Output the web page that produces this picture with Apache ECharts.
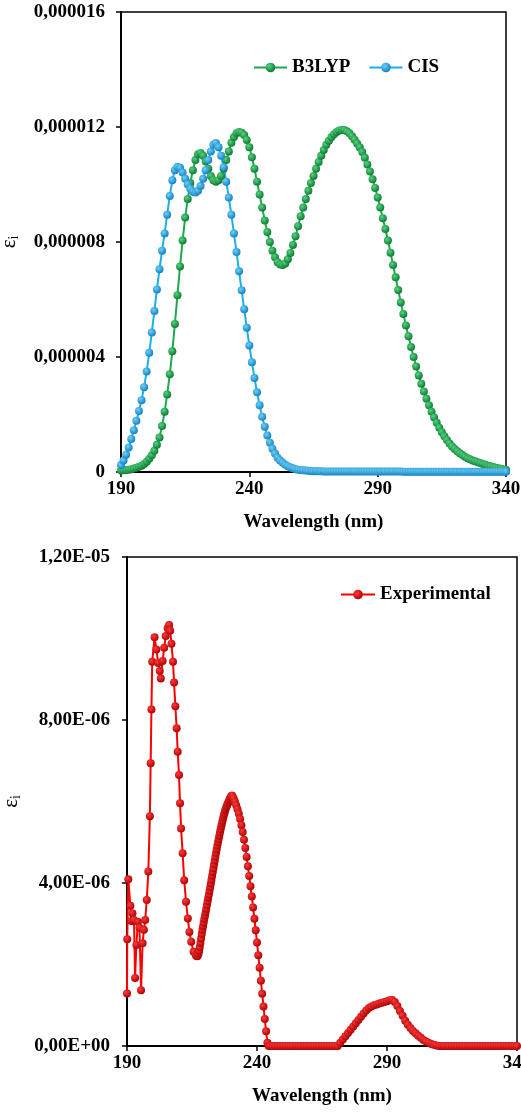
<!DOCTYPE html>
<html><head><meta charset="utf-8">
<script src="https://cdn.jsdelivr.net/npm/echarts@6/dist/echarts.min.js"></script>
<style>html,body{margin:0;padding:0;background:#fff}#c{width:521px;height:1114px}</style>
</head><body><div id="c"></div>
<script>
// Wavelengths (nm) for the computed spectra (top chart)
const topWavelengths = [190,191,192,193,194,195,196,197,198,199,200,201,202,203,204,205,206,207,208,209,210,211,212,213,214,215,216,217,218,219,220,221,222,223,224,225,226,227,228,229,230,231,232,233,234,235,236,237,238,239,240,241,242,243,244,245,246,247,248,249,250,251,252,253,254,255,256,257,258,259,260,261,262,263,264,265,266,267,268,269,270,271,272,273,274,275,276,277,278,279,280,281,282,283,284,285,286,287,288,289,290,291,292,293,294,295,296,297,298,299,300,301,302,303,304,305,306,307,308,309,310,311,312,313,314,315,316,317,318,319,320,321,322,323,324,325,326,327,328,329,330,331,332,333,334,335,336,337,338,339,340];
// epsilon values in units of 1e-6
const b3lyp = [0.05,0.06,0.07,0.08,0.10,0.12,0.15,0.18,0.22,0.28,
0.36,0.46,0.58,0.74,0.95,1.20,1.60,2.10,2.70,3.40,
4.20,5.15,6.15,7.15,8.05,8.85,9.50,10.05,10.50,10.85,
11.05,11.10,11.00,10.80,10.55,10.30,10.15,10.10,10.15,10.30,
10.55,10.85,11.15,11.45,11.65,11.78,11.83,11.80,11.72,11.55,
11.30,10.95,10.55,10.10,9.65,9.20,8.75,8.35,8.00,7.70,
7.47,7.30,7.22,7.20,7.25,7.40,7.62,7.90,8.20,8.55,
8.90,9.20,9.50,9.78,10.05,10.30,10.55,10.78,11.00,11.20,
11.38,11.52,11.65,11.75,11.83,11.88,11.90,11.90,11.85,11.78,
11.68,11.56,11.43,11.30,11.13,10.93,10.70,10.45,10.18,9.88,
9.55,9.20,8.83,8.45,8.05,7.63,7.20,6.77,6.33,5.90,
5.50,5.10,4.72,4.35,4.00,3.67,3.36,3.07,2.80,2.55,
2.32,2.10,1.90,1.71,1.54,1.38,1.24,1.11,0.99,0.89,
0.80,0.72,0.65,0.59,0.53,0.48,0.44,0.40,0.37,0.34,
0.31,0.28,0.25,0.22,0.20,0.17,0.15,0.13,0.11,0.09,
0.08];
const cis = [0.24,0.40,0.60,0.85,1.15,1.45,1.78,2.12,2.50,2.95,
3.50,4.15,4.85,5.60,6.35,7.05,7.70,8.30,8.95,9.60,
10.15,10.50,10.62,10.58,10.42,10.20,10.00,9.85,9.75,9.72,
9.78,9.95,10.20,10.50,10.85,11.15,11.38,11.44,11.30,11.00,
10.60,10.10,9.55,8.95,8.30,7.65,6.98,6.32,5.66,5.02,
4.40,3.82,3.27,2.77,2.32,1.92,1.57,1.27,1.02,0.81,
0.64,0.50,0.40,0.32,0.25,0.20,0.16,0.13,0.10,0.08,
0.07,0.06,0.05,0.04,0.035,0.03,0.03,0.025,0.025,0.02,
0.02,0.02,0.02,0.02,0.02,0.02,0.02,0.02,0.02,0.02,
0.02,0.02,0.02,0.02,0.02,0.02,0.02,0.02,0.02,0.02,
0.02,0.02,0.02,0.02,0.02,0.02,0.02,0.02,0.02,0.02,
0.01,0.01,0.01,0.01,0.01,0.01,0.01,0.01,0.01,0.01,
0.01,0.01,0.01,0.01,0.01,0.01,0.01,0.01,0.01,0.01,
0.01,0.01,0.01,0.01,0.01,0.01,0.01,0.01,0.01,0.01,
0.01,0.01,0.01,0.01,0.01,0.01,0.01,0.01,0.01,0.01,
0.01];
// Experimental spectrum (bottom chart), wavelengths in nm, values in units of 1e-6
const expWavelengths = [190.0,190.1,190.5,191.3,191.7,192.1,192.7,193.1,193.6,194.2,194.8,195.4,196.0,196.5,197.0,197.6,198.2,198.8,199.1,199.4,199.7,
200.6,201.3,202.0,202.6,203.0,203.7,204.3,204.9,205.6,206.2,206.6,207.1,207.7,208.1,208.6,209.1,209.5,210.0,210.4,210.8,211.4,212.0,212.7,213.4,214.0,214.7,215.6,216.5,
216.75,217.0,217.25,217.5,217.75,218.0,218.25,218.5,218.75,219.0,219.25,219.5,219.75,220.0,220.25,220.5,220.75,221.0,221.25,221.5,221.75,222.0,222.25,222.5,222.75,223.0,223.25,223.5,223.75,224.0,224.25,224.5,224.75,225.0,225.25,225.5,225.75,226.0,226.25,226.5,226.75,227.0,227.25,227.5,227.75,228.0,228.25,228.5,228.75,229.0,229.25,229.5,229.75,230.0,230.25,230.5,
231.0,231.5,232.0,232.5,233.0,233.5,234.0,234.5,235.0,235.5,236.0,236.5,237.0,237.5,238.0,238.5,239.0,239.5,240.0,240.5,241.0,241.5,242.0,242.5,243.0,243.5,244.0,244.5,
245,246,247,248,249,250,251,252,253,254,255,256,257,258,259,260,261,262,263,264,265,266,267,268,269,270,
271,272,273,274,275,276,277,278,279,280,281,282,283,284,285,286,287,288,289,290,291,292,293,294,295,296,297,298,299,300,301,302,303,304,305,306,307,308,309,
310,311,312,313,314,315,316,317,318,319,320,321,322,323,324,325,326,327,328,329,330,331,332,333,334,335,336,337,338,339,340];
const expValues = [1.29,2.62,4.09,3.44,3.07,3.26,3.09,1.67,2.48,3.05,2.90,1.37,2.52,2.85,3.09,3.58,4.28,5.64,6.94,8.26,9.43,
10.03,9.73,9.40,9.20,9.02,9.45,9.77,10.06,10.25,10.33,10.19,9.87,9.43,8.92,8.34,7.80,7.22,6.65,5.96,5.34,4.73,4.07,3.54,3.13,2.80,2.56,2.31,2.23,
2.21,2.20,2.22,2.27,2.34,2.43,2.53,2.64,2.75,2.85,2.94,3.03,3.12,3.20,3.29,3.37,3.46,3.55,3.64,3.72,3.81,3.90,3.99,4.08,4.18,4.27,4.36,4.46,4.55,4.65,4.74,4.83,4.92,5.00,5.08,5.16,5.24,5.32,5.39,5.46,5.53,5.60,5.66,5.72,5.78,5.83,5.87,5.91,5.95,5.98,6.02,6.06,6.09,6.12,6.14,6.14,
6.08,6.00,5.91,5.81,5.70,5.57,5.42,5.25,5.06,4.86,4.64,4.41,4.17,3.92,3.67,3.40,3.12,2.84,2.54,2.23,1.92,1.60,1.28,0.97,0.66,0.36,0.08,0.00,
0,0,0,0,0,0,0,0,0,0,0,0,0,0,0,0,0,0,0,0,0,0,0,0,0,0,
0.00,0.08,0.16,0.24,0.32,0.40,0.48,0.56,0.64,0.72,0.80,0.87,0.93,0.97,1.00,1.02,1.04,1.06,1.08,1.10,1.12,1.13,1.08,0.98,0.86,0.74,0.62,0.52,0.44,0.37,0.31,0.25,0.20,0.15,0.11,0.08,0.05,0.03,0.01,
0,0,0,0,0,0,0,0,0,0,0,0,0,0,0,0,0,0,0,0,0,0,0,0,0,0,0,0,0,0,0];

const xTickLabels = ['190','240','290','340'];
const topYTickLabels = ['0','0,000004','0,000008','0,000012','0,000016'];
const bottomYTickLabels = ['0,00E+00','4,00E-06','8,00E-06','1,20E-05'];
const seriesNames = ['B3LYP','CIS','Experimental'];

const FONT = '"Liberation Serif", "Times New Roman", serif';
const chart = echarts.init(document.getElementById('c'), null, {renderer:'canvas'});

function sphere(light, dark){
  return new echarts.graphic.RadialGradient(0.38,0.35,0.7,[{offset:0,color:light},{offset:1,color:dark}]);
}
function xAxisCfg(grid){
  return {
    gridIndex:grid, type:'value', min:190, max:340, interval:50,
    axisLine:{show:true,onZero:false,lineStyle:{color:'#000',width:2}},
    axisTick:{show:true,length:5,lineStyle:{color:'#000',width:1.5}},
    splitLine:{show:false},
    axisLabel:{color:'#000',fontFamily:FONT,fontWeight:'bold',fontSize:19,margin:8,hideOverlap:false,
      formatter:v=>xTickLabels[Math.round((v-190)/50)]},
    name:'Wavelength (nm)', nameLocation:'middle', nameGap:41,
    nameTextStyle:{color:'#000',fontFamily:FONT,fontWeight:'bold',fontSize:19}
  };
}
function yAxisCfg(grid, max, labels, margin, gap){
  return {
    gridIndex:grid, type:'value', min:0, max:max, interval:4,
    axisLine:{show:true,onZero:false,lineStyle:{color:'#000',width:2}},
    axisTick:{show:true,length:5,lineStyle:{color:'#000',width:1.5}},
    splitLine:{show:false},
    axisLabel:{color:'#000',fontFamily:FONT,fontWeight:'bold',fontSize:19,margin:margin,
      formatter:v=>labels[Math.round(v/4)]},
    name:'{e|ε}{s|i}', nameLocation:'middle', nameGap:gap, nameRotate:90,
    nameTextStyle:{color:'#000',fontFamily:FONT,
      rich:{e:{fontFamily:FONT,fontSize:21,color:'#000'},s:{fontFamily:FONT,fontSize:14,color:'#000',padding:[10,0,0,0]}}}
  };
}
const common = {type:'line',symbol:'circle',symbolSize:8,showAllSymbol:true,clip:false,smooth:false};
chart.setOption({
  animation:false,
  backgroundColor:'#fff',
  grid:[
    {left:121,top:12,width:385,height:460,show:true,borderColor:'#000',borderWidth:1.5,backgroundColor:'transparent',containLabel:false,outerBoundsMode:'none'},
    {left:127,top:557,width:390,height:489,show:true,borderColor:'#000',borderWidth:1.5,backgroundColor:'transparent',containLabel:false,outerBoundsMode:'none'}
  ],
  xAxis:[xAxisCfg(0),xAxisCfg(1)],
  yAxis:[yAxisCfg(0,16,topYTickLabels,16,100),yAxisCfg(1,12,bottomYTickLabels,17,103)],
  legend:[
    {data:[seriesNames[0],seriesNames[1]],left:248,top:53,itemWidth:33,itemHeight:12,itemGap:18,
     textStyle:{color:'#000',fontFamily:FONT,fontWeight:'bold',fontSize:19}},
    {data:[seriesNames[2]],left:335,top:580,itemWidth:34,itemHeight:12,
     textStyle:{color:'#000',fontFamily:FONT,fontWeight:'bold',fontSize:19}}
  ],
  series:[
    Object.assign({},common,{name:seriesNames[0],xAxisIndex:0,yAxisIndex:0,
      data:topWavelengths.map((w,i)=>[w,b3lyp[i]]),
      lineStyle:{color:'#1DAA4C',width:2},
      itemStyle:{color:sphere('#55d47f','#08752f')}}),
    Object.assign({},common,{name:seriesNames[1],xAxisIndex:0,yAxisIndex:0,
      data:topWavelengths.map((w,i)=>[w,cis[i]]),
      lineStyle:{color:'#1BB0EA',width:2},
      itemStyle:{color:sphere('#6fd0f5','#0c7dbf')}}),
    Object.assign({},common,{name:seriesNames[2],xAxisIndex:1,yAxisIndex:1,
      data:expWavelengths.map((w,i)=>[w,expValues[i]]),
      lineStyle:{color:'#FF0000',width:2},
      itemStyle:{color:sphere('#ff3a3a','#a80000')}})
  ]
});
</script></body></html>
